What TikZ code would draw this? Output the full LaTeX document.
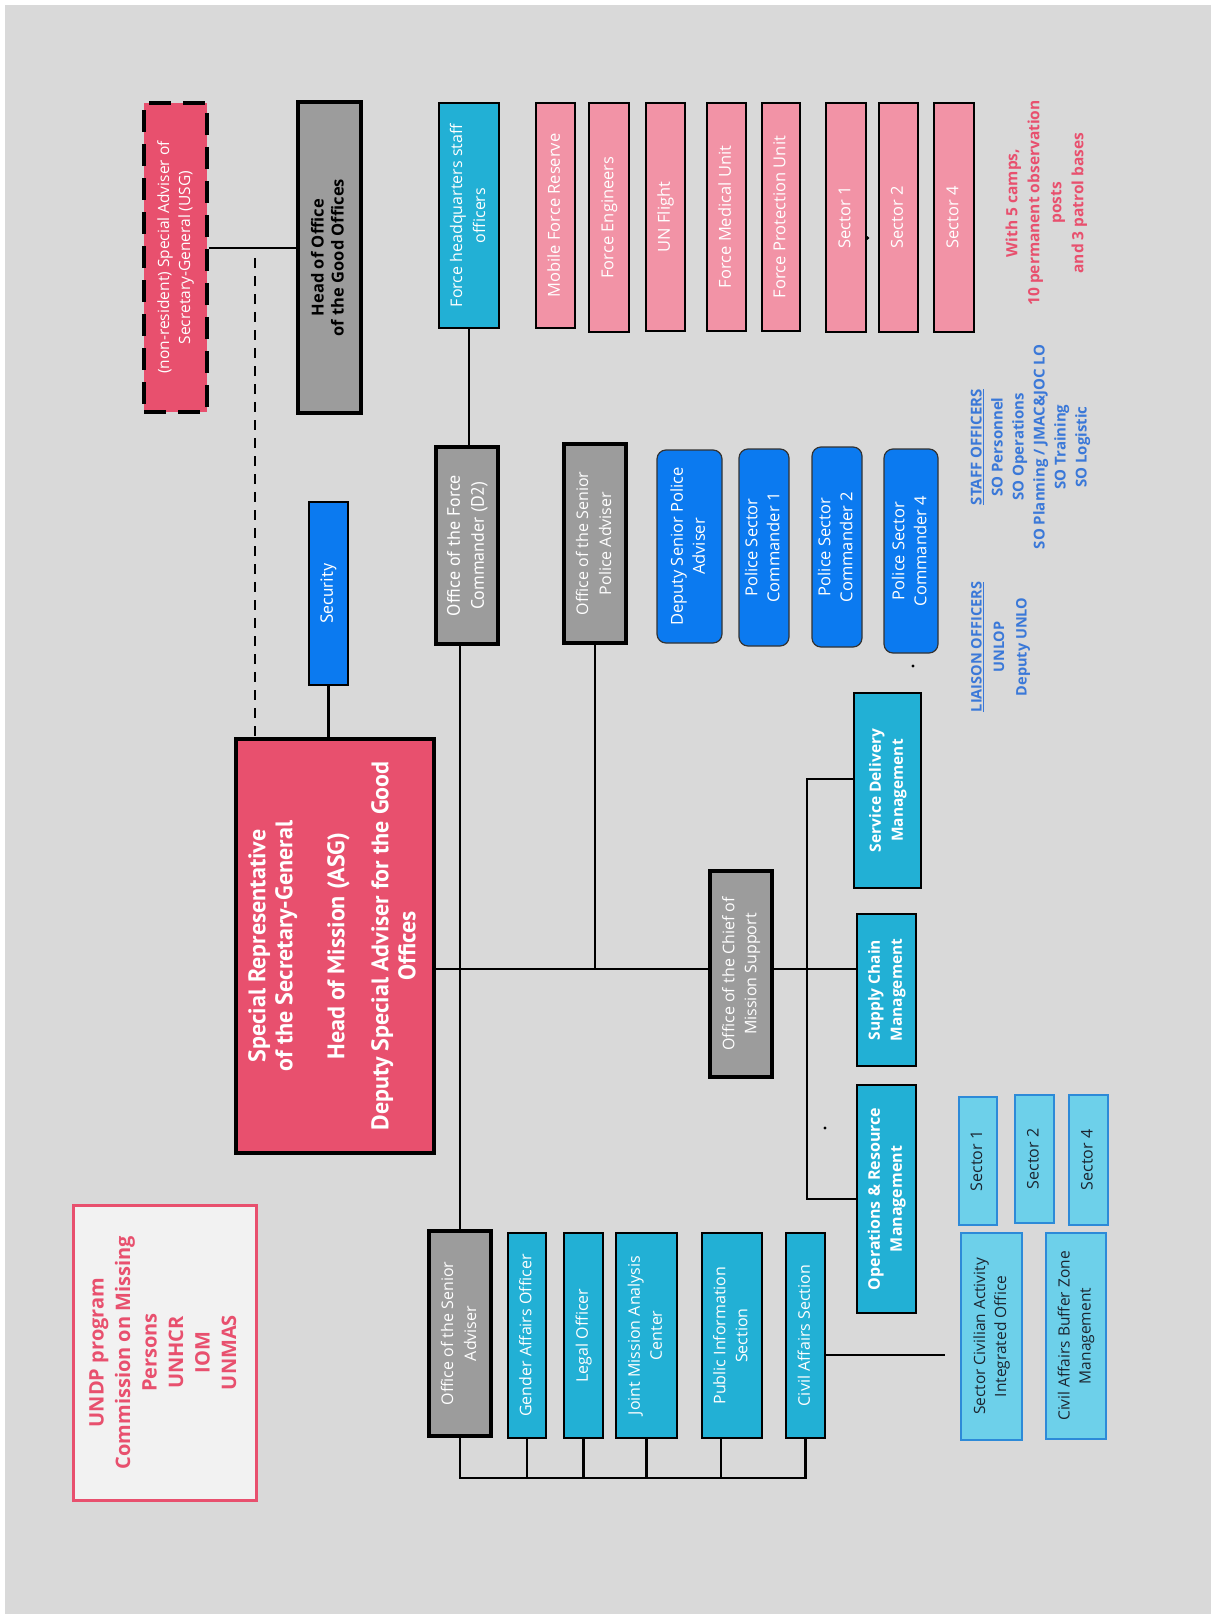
\documentclass[tikz,border=0pt]{standalone}
\usepackage{fontspec}
\usepackage{graphicx}
\setmainfont{Open Sans}[Ligatures=NoCommon]
\newfontfamily\ptsans{PT Sans}
\newcommand\vt[1]{\rotatebox{90}{\begin{tabular}{@{}c@{}}#1\end{tabular}}}
\newcommand\fs[2]{\fontsize{#1}{#2}\selectfont}

\definecolor{bggray}{HTML}{D9D9D9}
\definecolor{srpink}{HTML}{E8506E}
\definecolor{ltpink}{HTML}{F293A6}
\definecolor{cyanbox}{HTML}{22B0D5}
\definecolor{brblue}{HTML}{0B7AF0}
\definecolor{boxgray}{HTML}{9C9C9C}
\definecolor{ltcyan}{HTML}{6DD0EA}
\definecolor{ltedge}{HTML}{2D8AD8}
\definecolor{txtblue}{HTML}{3A78D8}
\definecolor{darktxt}{HTML}{1B2530}
\definecolor{undpfill}{HTML}{F2F2F2}

\tikzset{
  box/.style={rectangle, inner sep=0pt, text=white, font=\fs{16}{22}},
  graybox/.style={box, fill=boxgray, draw=black, line width=4.5pt},
  pinkbox/.style={box, fill=ltpink, draw=black, line width=2.5pt, font=\fs{16.5}{22}},
  cyanbox/.style={box, fill=cyanbox, draw=black, line width=2.2pt},
  bluebox/.style={box, fill=brblue, draw=black, line width=1.8pt},
  roundbox/.style={box, fill=brblue, draw=black!80, line width=1.2pt, rounded corners=9pt, font=\fs{16.5}{22}},
  lightbox/.style={box, fill=ltcyan, draw=ltedge, line width=2pt, text=darktxt, font=\fs{16}{21}},
  conn/.style={draw=black, line width=2.4pt},
  dashconn/.style={draw=black, line width=2.6pt, dash pattern=on 10pt off 8pt},
  note/.style={inner sep=0pt, font=\bfseries\fs{15.5}{22}},
}

\begin{document}
\begin{tikzpicture}[x=1pt, y=-1pt]
  % page background
  \fill[white] (0,0) rectangle (1211,1614);
  \fill[bggray] (5,5) rectangle (1211,1614);
  \useasboundingbox (0,0) rectangle (1211,1614);

  % top row: special adviser and good offices
  \node[box, fill=srpink, draw=black, line width=4.5pt, dash pattern=on 22pt off 12pt,
        minimum width=63pt, minimum height=309pt, font=\fs{15.5}{21}] (usg) at (175.5,257.5)
        {\vt{(non-resident) Special Adviser of\\Secretary-General (USG)}};
  \node[graybox, text=black, minimum width=63pt, minimum height=311pt, font=\bfseries\fs{16.5}{20}]
        (head) at (329.5,257.5) {\vt{Head of Office\\of the Good Offices}};

  % force headquarters and units
  \node[cyanbox, minimum width=60pt, minimum height=225pt, font=\fs{16}{23}] (fhq) at (469,215.5)
        {\vt{Force headquarters staff\\officers}};
  \node[pinkbox, minimum width=39pt, minimum height=225pt] (mfr) at (555.5,215.5) {\vt{Mobile Force Reserve}};
  \node[pinkbox, minimum width=40pt, minimum height=229pt] (fe)  at (609,217.5)   {\vt{Force Engineers}};
  \node[pinkbox, minimum width=39pt, minimum height=228pt] (unf) at (665.5,217)   {\vt{UN Flight}};
  \node[pinkbox, minimum width=39pt, minimum height=228pt] (fmu) at (726.5,217)   {\vt{Force Medical Unit}};
  \node[pinkbox, minimum width=38pt, minimum height=228pt] (fpu) at (781,217)     {\vt{Force Protection Unit}};
  \node[pinkbox, minimum width=40pt, minimum height=229pt] (fs1) at (846,217.5)   {\vt{Sector 1}};
  \node[pinkbox, minimum width=39pt, minimum height=229pt] (fs2) at (898.5,217.5) {\vt{Sector 2}};
  \node[pinkbox, minimum width=40pt, minimum height=229pt] (fs4) at (954,217.5)   {\vt{Sector 4}};

  \node[note, text=srpink] (camps) at (1046,203)
        {\vt{With 5 camps,\\10 permanent observation\\posts\\and 3 patrol bases}};

  % security and the head of mission
  \node[bluebox, minimum width=39pt, minimum height=183pt, font=\ptsans\fs{17.5}{22}] (security) at (328.5,593.5)
        {\vt{Security}};
  \node[box, fill=srpink, draw=black, line width=4.5pt, minimum width=198pt, minimum height=414pt,
        font=\ptsans\bfseries\fs{24}{27}] (srsg) at (335,946)
        {\vt{Special Representative\\of the Secretary-General\\[25pt]Head of Mission (ASG)\\[17pt]Deputy Special Adviser for the Good\\Offices}};

  % military and police components
  \node[graybox, minimum width=62pt, minimum height=197pt, font=\ptsans\fs{18}{24}] (forcecmd) at (467,545.5)
        {\vt{Office of the Force\\Commander (D2)}};
  \node[graybox, minimum width=62pt, minimum height=199pt, font=\fs{16}{23}] (spa) at (595,543.5)
        {\vt{Office of the Senior\\Police Adviser}};
  \node[roundbox, minimum width=65pt, minimum height=193pt] (dspa) at (689.5,546.5) {\vt{Deputy Senior Police\\Adviser}};
  \node[roundbox, minimum width=50pt, minimum height=197pt] (psc1) at (764,547.5)   {\vt{Police Sector\\Commander 1}};
  \node[roundbox, minimum width=50pt, minimum height=200pt] (psc2) at (837,547)     {\vt{Police Sector\\Commander 2}};
  \node[roundbox, minimum width=54pt, minimum height=204pt] (psc4) at (911,551)     {\vt{Police Sector\\Commander 4}};

  \node[note, text=txtblue, font=\bfseries\fs{14.5}{22.5}] (liaison) at (999.5,647)
        {\vt{\underline{LIAISON OFFICERS}\\UNLOP\\Deputy UNLO}};
  \node[note, text=txtblue, font=\bfseries\fs{15}{21}] (staff) at (1030,447)
        {\vt{\underline{STAFF OFFICERS}\\SO Personnel\\SO Operations\\SO Planning / JMAC\&JOC LO\\SO Training\\SO Logistic}};

  % mission support
  \node[graybox, minimum width=62pt, minimum height=206pt, font=\fs{16}{22}] (cms) at (741,974)
        {\vt{Office of the Chief of\\Mission Support}};
  \node[cyanbox, minimum width=67pt, minimum height=195pt, font=\bfseries\fs{15.5}{22}] (sdm) at (887.5,790.5)
        {\vt{Service Delivery\\Management}};
  \node[cyanbox, minimum width=59pt, minimum height=152pt, font=\bfseries\fs{15.5}{22}] (scm) at (886.5,990)
        {\vt{Supply Chain\\Management}};
  \node[cyanbox, minimum width=59pt, minimum height=228pt, font=\bfseries\fs{16}{22}] (orm) at (886.5,1199)
        {\vt{Operations \& Resource\\Management}};

  % substantive offices
  \node[graybox, minimum width=62pt, minimum height=205pt, font=\fs{16}{23}] (sadv) at (460,1333.5)
        {\vt{Office of the Senior\\Adviser}};
  \node[cyanbox, minimum width=38pt, minimum height=205pt] (gao)   at (527,1335.5)   {\vt{Gender Affairs Officer}};
  \node[cyanbox, minimum width=39pt, minimum height=205pt] (legal) at (583.5,1335.5) {\vt{Legal Officer}};
  \node[cyanbox, minimum width=61pt, minimum height=205pt] (jmac) at (646.5,1335.5)
        {\vt{Joint Mission Analysis\\Center}};
  \node[cyanbox, minimum width=60pt, minimum height=205pt] (pis) at (732,1335.5)
        {\vt{Public Information\\Section}};
  \node[cyanbox, minimum width=39pt, minimum height=205pt] (cas) at (805.5,1335.5) {\vt{Civil Affairs Section}};

  % civil affairs field offices
  \node[lightbox, minimum width=38pt, minimum height=128pt] (ls1) at (978,1161)    {\vt{Sector 1}};
  \node[lightbox, minimum width=39pt, minimum height=128pt] (ls2) at (1034.5,1159) {\vt{Sector 2}};
  \node[lightbox, minimum width=39pt, minimum height=130pt] (ls4) at (1088.5,1160) {\vt{Sector 4}};
  \node[lightbox, minimum width=61pt, minimum height=207pt, font=\fs{15.5}{21}] (scaio) at (991.5,1336.5)
        {\vt{Sector Civilian Activity\\Integrated Office}};
  \node[lightbox, minimum width=60pt, minimum height=206pt, font=\fs{15.5}{21}] (cabzm) at (1076,1336)
        {\vt{Civil Affairs Buffer Zone\\Management}};

  % partner agencies
  \node[box, fill=undpfill, draw=srpink, line width=3pt, text=srpink, minimum width=183pt, minimum height=295pt,
        font=\bfseries\fs{20}{26.5}] (undp) at (164.5,1352.5)
        {\vt{UNDP program\\Commission on Missing\\Persons\\UNHCR\\IOM\\UNMAS}};

  % connectors
  \draw[conn] ([yshift=9.5pt]usg.east) -- ([yshift=9.5pt]head.west);
  \coordinate (dtop) at (255,258);
  \draw[dashconn] (dtop) -- (dtop |- srsg.north);
  \draw[conn] (security.south) -- (security.south |- srsg.north);

  \coordinate (mainy) at (600,969);
  \draw[conn] (srsg.east |- mainy) -- (cms.west |- mainy);
  \draw[conn] (cms.east |- mainy) -- (scm.west |- mainy);
  \draw[conn] (fhq.south) -- (fhq.south |- forcecmd.north);
  \draw[conn] (sadv.north |- forcecmd.south) -- (sadv.north);
  \draw[conn] (spa.south) -- (spa.south |- mainy);

  \coordinate (sbus) at (807,779);
  \draw[conn] (sdm.west |- sbus) -- (sbus) -- (sbus |- orm.west) -- (orm.west);

  \coordinate (bb) at (600,1478);
  \draw[conn] (sadv.south) -- (sadv.south |- bb) -- (cas.south |- bb) -- (cas.south);
  \foreach \n in {gao,legal,jmac}
    \draw[conn] (\n.south) -- (\n.south |- bb);
  \draw[conn] ([xshift=-11pt]pis.south) -- ([xshift=-11pt]pis.south |- bb);

  \coordinate (caend) at (945,1355);
  \draw[conn] (cas.east |- caend) -- (caend);

  % stray marks
  \fill (867.5,238) circle (1.8pt);
  \fill (913,666) circle (1.6pt);
  \fill (825,1128) circle (1.6pt);
\end{tikzpicture}
\end{document}
